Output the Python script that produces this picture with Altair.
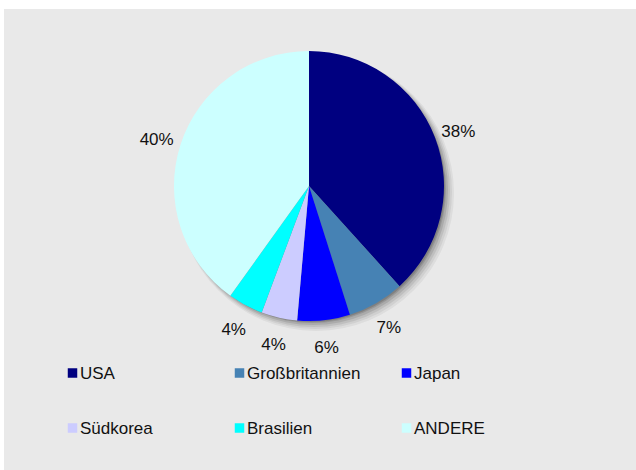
import altair as alt
import pandas as pd

countries = ["USA", "Großbritannien", "Japan", "Südkorea", "Brasilien", "ANDERE"]
shares = [38.3, 6.8, 6.3, 4.3, 4.2, 40.1]
labels = ["38%", "7%", "6%", "4%", "4%", "40%"]
colors = ["#000080", "#4682B4", "#0000FF", "#CCCCFF", "#00FFFF", "#CCFFFF"]

df = pd.DataFrame({"land": countries, "anteil": shares, "label": labels,
                   "idx": list(range(len(countries)))})

CX, CY, R = 309, 186, 135
FONT = "Liberation Sans"
color_scale = alt.Scale(domain=countries, range=colors)

bg = alt.Chart(pd.DataFrame({"a": [0]})).mark_rect(color="#e9e9e9").encode(
    x=alt.value(4), x2=alt.value(636), y=alt.value(9), y2=alt.value(470))

shadow_layers = []
for off, rr, op in [(7, 138, 0.05), (6, 137, 0.06), (5, 136, 0.08), (4, 135, 0.10), (3, 134, 0.12), (2, 134, 0.14)]:
    shadow_layers.append(
        alt.Chart(pd.DataFrame({"a": [0]})).mark_arc(
            theta=0, theta2=6.2832, radius=rr, color="#000000", opacity=op
        ).encode(x=alt.value(CX + off), y=alt.value(CY + off))
    )

base = alt.Chart(df)

pie = base.mark_arc(radius=R, stroke=None).encode(
    theta=alt.Theta("anteil:Q", stack=True),
    color=alt.Color("land:N", scale=color_scale, sort=countries, legend=None),
    order=alt.Order("idx:Q"),
    x=alt.value(CX), y=alt.value(CY),
)

text = base.mark_text(radius=160, fontSize=17, font=FONT, color="#111111", dy=3).encode(
    theta=alt.Theta("anteil:Q", stack=True),
    text="label:N",
    order=alt.Order("idx:Q"),
    x=alt.value(CX), y=alt.value(CY),
)

# legend laid out as a 3-column grid
leg = base.transform_calculate(
    col="datum.idx % 3", row="floor(datum.idx / 3)"
).transform_calculate(
    sx="72.5 + datum.col * 167", sy="373 + datum.row * 55",
    tx="80 + datum.col * 167", ty="379 + datum.row * 55",
)

leg_sym = leg.mark_square(size=90, opacity=1, strokeWidth=0).encode(
    x=alt.X("sx:Q", scale=None, axis=None),
    y=alt.Y("sy:Q", scale=None, axis=None),
    color=alt.Color("land:N", scale=color_scale, legend=None),
)
leg_txt = leg.mark_text(align="left", baseline="alphabetic", fontSize=17,
                        font=FONT, color="#111111").encode(
    x=alt.X("tx:Q", scale=None, axis=None),
    y=alt.Y("ty:Q", scale=None, axis=None),
    text="land:N",
)

chart = alt.layer(bg, *shadow_layers, pie, text, leg_sym, leg_txt).properties(
    width=636, height=470, padding=0, autosize=alt.AutoSizeParams(type="none"),
    background="#ffffff",
).configure_view(stroke=None)

chart.save("out.html", embed_options={"renderer": "svg", "actions": False})
